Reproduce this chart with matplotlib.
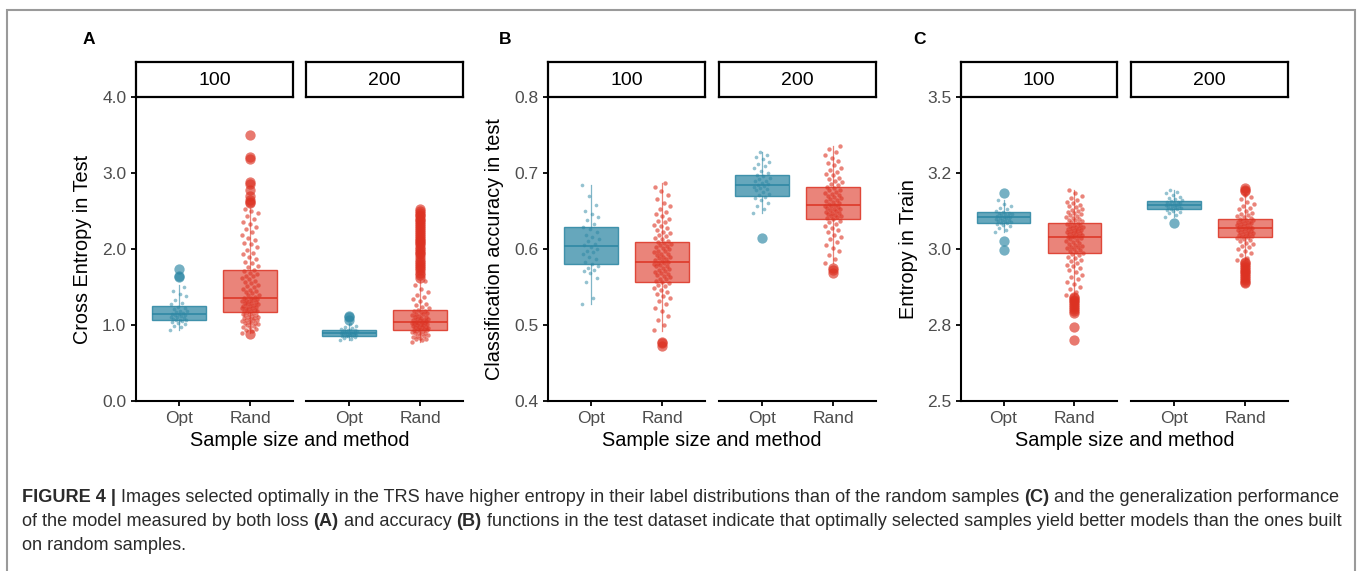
"""Recreate Figure 4: boxplots of loss, accuracy and entropy for optimal vs random samples."""
import matplotlib
matplotlib.use("Agg")
import matplotlib.pyplot as plt
from matplotlib import font_manager
from matplotlib.patches import Rectangle

# ---------------- data ----------------
methods = ["Opt", "Rand"]
sizes = ["100", "200"]

# box stats: [whisker low, Q1, median, Q3, whisker high]
ce_opt_100_box = [0.93, 1.06, 1.14, 1.25, 1.52]
ce_rand_100_box = [0.89, 1.17, 1.35, 1.73, 2.54]
ce_opt_200_box = [0.80, 0.85, 0.89, 0.93, 1.01]
ce_rand_200_box = [0.78, 0.94, 1.04, 1.20, 1.59]

acc_opt_100_box = [0.528, 0.580, 0.604, 0.629, 0.684]
acc_rand_100_box = [0.492, 0.557, 0.583, 0.609, 0.687]
acc_opt_200_box = [0.648, 0.670, 0.684, 0.698, 0.727]
acc_rand_200_box = [0.581, 0.640, 0.658, 0.682, 0.735]

ent_opt_100_box = [3.057, 3.087, 3.104, 3.123, 3.160]
ent_rand_100_box = [2.849, 2.986, 3.038, 3.085, 3.194]
ent_opt_200_box = [3.106, 3.132, 3.145, 3.158, 3.194]
ent_rand_200_box = [2.964, 3.038, 3.068, 3.099, 3.178]

# individual runs
ce_opt_100 = [0.94, 0.97, 0.99, 1.01, 1.02, 1.04, 1.05, 1.06, 1.07, 1.07, 1.08, 1.09,
              1.10, 1.11, 1.12, 1.13, 1.13, 1.14, 1.15, 1.16, 1.17, 1.18, 1.19, 1.21,
              1.22, 1.24, 1.27, 1.29, 1.33, 1.38, 1.41, 1.45, 1.50, 1.63, 1.65, 1.74]
ce_rand_100 = [0.88, 0.90, 0.92, 0.94, 0.95, 0.97, 0.98, 0.99, 1.00, 1.01, 1.02, 1.02,
               1.03, 1.04, 1.05, 1.06, 1.06, 1.07, 1.08, 1.09, 1.09, 1.10, 1.11, 1.12,
               1.13, 1.13, 1.14, 1.15, 1.16, 1.17, 1.18, 1.19, 1.19, 1.20, 1.21, 1.22,
               1.22, 1.23, 1.24, 1.25, 1.25, 1.26, 1.27, 1.28, 1.29, 1.29, 1.30, 1.31,
               1.32, 1.33, 1.33, 1.34, 1.35, 1.36, 1.37, 1.39, 1.40, 1.42, 1.43, 1.45,
               1.46, 1.48, 1.50, 1.51, 1.53, 1.55, 1.56, 1.58, 1.60, 1.62, 1.64, 1.65,
               1.67, 1.69, 1.71, 1.73, 1.76, 1.78, 1.81, 1.83, 1.87, 1.90, 1.93, 1.95,
               1.99, 2.02, 2.06, 2.08, 2.12, 2.15, 2.18, 2.22, 2.26, 2.29, 2.33, 2.36,
               2.40, 2.44, 2.47, 2.50, 2.53, 2.60, 2.62, 2.65, 2.70, 2.78, 2.85, 2.88,
               3.18, 3.21, 3.50]
ce_opt_200 = [0.80, 0.82, 0.83, 0.84, 0.85, 0.85, 0.86, 0.86, 0.87, 0.87, 0.88, 0.88,
              0.88, 0.89, 0.89, 0.90, 0.90, 0.90, 0.91, 0.91, 0.92, 0.92, 0.93, 0.93,
              0.94, 0.94, 0.95, 0.96, 0.97, 0.99, 1.01, 1.07, 1.10, 1.12]
ce_rand_200 = [0.78, 0.80, 0.81, 0.82, 0.83, 0.84, 0.85, 0.86, 0.87, 0.88, 0.89, 0.89,
               0.90, 0.91, 0.92, 0.92, 0.93, 0.94, 0.94, 0.95, 0.95, 0.96, 0.97, 0.97,
               0.98, 0.98, 0.99, 1.00, 1.00, 1.01, 1.01, 1.02, 1.02, 1.03, 1.03, 1.04,
               1.04, 1.05, 1.06, 1.06, 1.07, 1.08, 1.08, 1.09, 1.10, 1.11, 1.12, 1.13,
               1.14, 1.15, 1.16, 1.17, 1.18, 1.19, 1.20, 1.22, 1.24, 1.26, 1.28, 1.31,
               1.34, 1.37, 1.40, 1.44, 1.48, 1.53, 1.58, 1.62, 1.66, 1.69, 1.72, 1.75,
               1.77, 1.80, 1.83, 1.86, 1.90, 1.93, 1.95, 1.97, 2.00, 2.03, 2.06, 2.08,
               2.10, 2.12, 2.14, 2.17, 2.20, 2.22, 2.25, 2.27, 2.30, 2.33, 2.35, 2.38,
               2.40, 2.43, 2.45, 2.48, 2.50, 2.53]

acc_opt_100 = [0.528, 0.535, 0.556, 0.562, 0.568, 0.571, 0.573, 0.575, 0.578, 0.580,
               0.583, 0.587, 0.590, 0.593, 0.596, 0.598, 0.600, 0.603, 0.605, 0.607,
               0.610, 0.613, 0.616, 0.619, 0.622, 0.626, 0.629, 0.633, 0.638, 0.642,
               0.646, 0.650, 0.658, 0.670, 0.684]
acc_rand_100 = [0.472, 0.476, 0.478, 0.493, 0.500, 0.507, 0.512, 0.518, 0.522, 0.527,
                0.531, 0.535, 0.538, 0.541, 0.544, 0.546, 0.549, 0.551, 0.553, 0.555,
                0.557, 0.558, 0.560, 0.561, 0.563, 0.564, 0.566, 0.567, 0.569, 0.570,
                0.571, 0.573, 0.574, 0.575, 0.577, 0.578, 0.579, 0.580, 0.581, 0.582,
                0.583, 0.584, 0.585, 0.587, 0.588, 0.589, 0.590, 0.592, 0.593, 0.594,
                0.596, 0.597, 0.598, 0.600, 0.601, 0.602, 0.604, 0.605, 0.606, 0.608,
                0.609, 0.611, 0.613, 0.615, 0.617, 0.619, 0.621, 0.623, 0.625, 0.627,
                0.630, 0.632, 0.635, 0.637, 0.640, 0.643, 0.646, 0.649, 0.653, 0.657,
                0.661, 0.666, 0.671, 0.676, 0.681, 0.687]
acc_opt_200 = [0.614, 0.648, 0.653, 0.657, 0.661, 0.664, 0.667, 0.669, 0.671, 0.673,
               0.675, 0.677, 0.679, 0.680, 0.682, 0.683, 0.684, 0.686, 0.687, 0.689,
               0.690, 0.692, 0.694, 0.696, 0.698, 0.700, 0.703, 0.706, 0.709, 0.712,
               0.715, 0.718, 0.721, 0.724, 0.727]
acc_rand_200 = [0.568, 0.572, 0.575, 0.581, 0.587, 0.592, 0.597, 0.601, 0.605, 0.609,
                0.613, 0.616, 0.619, 0.622, 0.625, 0.628, 0.630, 0.633, 0.635, 0.637,
                0.640, 0.641, 0.642, 0.643, 0.644, 0.645, 0.646, 0.647, 0.648, 0.649,
                0.650, 0.651, 0.652, 0.653, 0.654, 0.655, 0.656, 0.657, 0.658, 0.659,
                0.660, 0.662, 0.663, 0.664, 0.666, 0.667, 0.668, 0.670, 0.671, 0.672,
                0.674, 0.675, 0.677, 0.678, 0.680, 0.682, 0.684, 0.686, 0.688, 0.690,
                0.692, 0.694, 0.697, 0.699, 0.701, 0.704, 0.707, 0.710, 0.713, 0.716,
                0.720, 0.724, 0.728, 0.732, 0.735]

ent_opt_100 = [2.997, 3.026, 3.057, 3.064, 3.070, 3.075, 3.079, 3.082, 3.085, 3.087,
               3.089, 3.091, 3.093, 3.095, 3.097, 3.099, 3.101, 3.103, 3.104, 3.106,
               3.108, 3.110, 3.112, 3.114, 3.116, 3.118, 3.120, 3.123, 3.126, 3.130,
               3.135, 3.141, 3.148, 3.160, 3.183]
ent_rand_100 = [2.700, 2.744, 2.788, 2.796, 2.803, 2.810, 2.816, 2.822, 2.828, 2.833,
                2.838, 2.843, 2.849, 2.858, 2.867, 2.876, 2.885, 2.893, 2.901, 2.909,
                2.916, 2.923, 2.930, 2.937, 2.943, 2.949, 2.955, 2.960, 2.965, 2.970,
                2.975, 2.979, 2.983, 2.986, 2.990, 2.993, 2.996, 2.999, 3.002, 3.005,
                3.008, 3.011, 3.014, 3.017, 3.020, 3.023, 3.026, 3.029, 3.032, 3.035,
                3.038, 3.040, 3.042, 3.044, 3.046, 3.048, 3.050, 3.052, 3.054, 3.056,
                3.058, 3.060, 3.062, 3.064, 3.066, 3.068, 3.070, 3.072, 3.074, 3.076,
                3.078, 3.080, 3.082, 3.085, 3.088, 3.091, 3.094, 3.097, 3.100, 3.103,
                3.106, 3.109, 3.112, 3.115, 3.118, 3.121, 3.125, 3.129, 3.133, 3.137,
                3.141, 3.146, 3.151, 3.156, 3.162, 3.168, 3.175, 3.183, 3.194]
ent_opt_200 = [3.087, 3.106, 3.112, 3.117, 3.121, 3.125, 3.128, 3.131, 3.133, 3.135,
               3.137, 3.139, 3.141, 3.143, 3.145, 3.146, 3.148, 3.150, 3.152, 3.154,
               3.156, 3.158, 3.161, 3.164, 3.168, 3.172, 3.177, 3.183, 3.189, 3.194]
ent_rand_200 = [2.887, 2.893, 2.899, 2.905, 2.911, 2.917, 2.923, 2.929, 2.935, 2.941,
                2.947, 2.953, 2.958, 2.964, 2.972, 2.980, 2.987, 2.994, 3.000, 3.006,
                3.011, 3.016, 3.021, 3.025, 3.029, 3.033, 3.036, 3.038, 3.040, 3.042,
                3.044, 3.046, 3.048, 3.050, 3.052, 3.054, 3.056, 3.058, 3.060, 3.062,
                3.064, 3.066, 3.068, 3.070, 3.072, 3.074, 3.076, 3.078, 3.080, 3.082,
                3.084, 3.086, 3.088, 3.090, 3.092, 3.094, 3.096, 3.099, 3.102, 3.105,
                3.108, 3.112, 3.116, 3.120, 3.125, 3.130, 3.136, 3.142, 3.149, 3.156,
                3.164, 3.171, 3.178, 3.190, 3.195, 3.200]

ce_ticks = [0.0, 1.0, 2.0, 3.0, 4.0]
ce_ticklabels = ["0.0", "1.0", "2.0", "3.0", "4.0"]
acc_ticks = [0.4, 0.5, 0.6, 0.7, 0.8]
acc_ticklabels = ["0.4", "0.5", "0.6", "0.7", "0.8"]
ent_ticks = [2.5, 2.75, 3.0, 3.25, 3.5]
ent_ticklabels = ["2.5", "2.8", "3.0", "3.2", "3.5"]

caption_lines = [
    [("FIGURE 4 |", True),
     (" Images selected optimally in the TRS have higher entropy in their label "
      "distributions than of the random samples ", False),
     ("(C)", True), (" and the generalization performance", False)],
    [("of the model measured by both loss ", False), ("(A)", True),
     (" and accuracy ", False), ("(B)", True),
     (" functions in the test dataset indicate that optimally selected samples yield "
      "better models than the ones built", False)],
    [("on random samples.", False)],
]

# ---------------- style ----------------
names = {f.name for f in font_manager.fontManager.ttflist}
plt.rcParams["font.family"] = ["Liberation Sans", "DejaVu Sans"]
cap_family = ["Liberation Sans Narrow", "Liberation Sans"] if "Liberation Sans Narrow" in names \
    else ["Liberation Sans", "DejaVu Sans"]

TEAL = "#2b86a3"
RED = "#dc3222"
TICK_GRAY = "#4d4d4d"
W, H = 1362, 571

fig = plt.figure(figsize=(W / 100, H / 100), dpi=100)


def px_axes(x0, y0, x1, y1):
    return fig.add_axes([x0 / W, 1 - y1 / H, (x1 - x0) / W, (y1 - y0) / H])


def draw_group(ax, pos, box, pts, color, alpha_fill, alpha_pts, size_pts):
    lo, q1, med, q3, hi = box
    fliers = [v for v in pts if v < lo or v > hi]
    inside = [v for v in pts if lo <= v <= hi]
    stats = [dict(whislo=lo, q1=q1, med=med, q3=q3, whishi=hi, fliers=[])]
    ax.bxp(stats, positions=[pos], widths=0.75, patch_artist=True, showcaps=False,
           boxprops=dict(facecolor=matplotlib.colors.to_rgba(color, alpha_fill),
                         edgecolor=matplotlib.colors.to_rgba(color, 0.85), linewidth=1.0),
           whiskerprops=dict(color=matplotlib.colors.to_rgba(color, 0.6), linewidth=0.9),
           medianprops=dict(color=color, linewidth=1.1, zorder=6),
           manage_ticks=False, zorder=2)
    # deterministic jitter offsets for the individual runs
    xs = [pos + 0.12 * (2 * ((i * 0.6180339887) % 1.0) - 1) for i in range(len(inside))]
    ax.scatter(xs, inside, s=size_pts, color=color, alpha=alpha_pts, linewidths=0, zorder=4)
    if fliers:
        ax.scatter([pos] * len(fliers), fliers, s=55, color=color, alpha=0.65,
                   linewidths=0, zorder=5)


panels = [
    dict(letter="A", letter_x=89, ylabel="Cross Entropy in Test", ylabel_x=83,
         ylim=(0.0, 4.0), ticks=ce_ticks, ticklabels=ce_ticklabels,
         facets=[(136, 293), (306, 463)],
         data=[[(ce_opt_100_box, ce_opt_100), (ce_rand_100_box, ce_rand_100)],
               [(ce_opt_200_box, ce_opt_200), (ce_rand_200_box, ce_rand_200)]]),
    dict(letter="B", letter_x=505, ylabel="Classification accuracy in test", ylabel_x=495,
         ylim=(0.4, 0.8), ticks=acc_ticks, ticklabels=acc_ticklabels,
         facets=[(548, 705), (719, 876)],
         data=[[(acc_opt_100_box, acc_opt_100), (acc_rand_100_box, acc_rand_100)],
               [(acc_opt_200_box, acc_opt_200), (acc_rand_200_box, acc_rand_200)]]),
    dict(letter="C", letter_x=919, ylabel="Entropy in Train", ylabel_x=908,
         ylim=(2.5, 3.5), ticks=ent_ticks, ticklabels=ent_ticklabels,
         facets=[(961, 1117), (1131, 1288)],
         data=[[(ent_opt_100_box, ent_opt_100), (ent_rand_100_box, ent_rand_100)],
               [(ent_opt_200_box, ent_opt_200), (ent_rand_200_box, ent_rand_200)]]),
]

TOP, BOTTOM, STRIP_TOP = 97, 401, 62
colors = [TEAL, RED]

for p in panels:
    for k, (x0, x1) in enumerate(p["facets"]):
        ax = px_axes(x0, TOP, x1, BOTTOM)
        ax.set_xlim(0.4, 2.6)
        ax.set_ylim(*p["ylim"])
        for j, (box, pts) in enumerate(p["data"][k]):
            if j == 0:
                draw_group(ax, 1, box, pts, TEAL, 0.72, 0.5, 7)
            else:
                draw_group(ax, 2, box, pts, RED, 0.6, 0.6, 10)
        for side in ("top", "right"):
            ax.spines[side].set_visible(False)
        ax.spines["bottom"].set_linewidth(1.5)
        ax.spines["left"].set_linewidth(1.5)
        ax.set_xticks([1, 2])
        ax.set_xticklabels(methods)
        ax.tick_params(axis="both", length=3.5, width=1.3, color="black",
                       labelcolor=TICK_GRAY, labelsize=12.5, pad=3.5)
        if k == 0:
            ax.set_yticks(p["ticks"])
            ax.set_yticklabels(p["ticklabels"])
        else:
            ax.spines["left"].set_visible(False)
            ax.set_yticks([])
        ax.patch.set_alpha(0)

        # facet strip
        sx = px_axes(x0, STRIP_TOP, x1, TOP)
        sx.set_xticks([])
        sx.set_yticks([])
        for s in sx.spines.values():
            s.set_linewidth(1.6)
            s.set_color("black")
        sx.text(0.5, 0.48, sizes[k], ha="center", va="center", fontsize=14,
                transform=sx.transAxes)

    fig.text(p["letter_x"] / W, 1 - 40 / H, p["letter"], fontsize=12.5,
             weight="bold", ha="center", va="center")
    fig.text(p["ylabel_x"] / W, 1 - 249 / H, p["ylabel"], fontsize=14.3,
             rotation=90, ha="center", va="center")
    xc = (p["facets"][0][0] + p["facets"][1][1]) / 2
    fig.text(xc / W, 1 - 441 / H, "Sample size and method", fontsize=14.3,
             ha="center", va="center")

# outer frame of the figure
fig.patches.append(Rectangle((7 / W, -0.2), (1355 - 7) / W, 1 - 10 / H + 0.2,
                             transform=fig.transFigure, fill=False,
                             edgecolor="#9a9a9a", linewidth=1.5))

# caption with bold fragments, fitted to the printed line width
renderer = fig.canvas.get_renderer()


def line_width(parts, size):
    total = 0
    for txt, bold in parts:
        t = fig.text(0, 0, txt, fontsize=size, family=cap_family,
                     weight="bold" if bold else "normal")
        total += t.get_window_extent(renderer).width
        t.remove()
    return total


cap_size = 11.0
cap_size *= (1342 - 22) / line_width(caption_lines[0], cap_size)

for row, y in zip(caption_lines, [498, 522, 546]):
    x = 22
    for txt, bold in row:
        t = fig.text(x / W, 1 - y / H, txt, fontsize=cap_size, family=cap_family,
                     weight="bold" if bold else "normal", color="#2b2b2b",
                     ha="left", va="center")
        x += t.get_window_extent(renderer).width

fig.savefig("out.png", dpi=100)
print("Saved out.png")
